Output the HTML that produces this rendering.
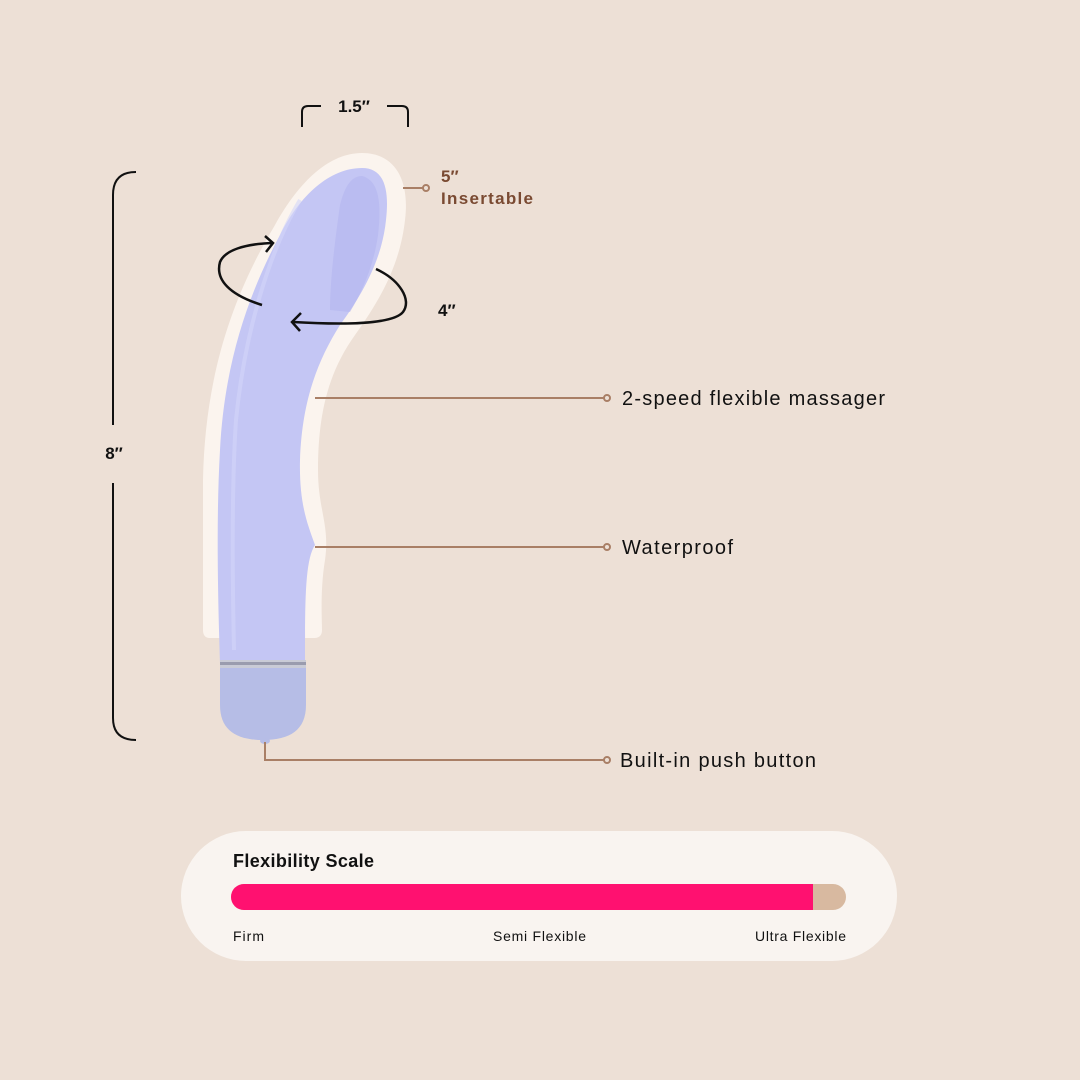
<!DOCTYPE html>
<html><head><meta charset="utf-8"><style>
html,body{margin:0;padding:0;background:#ede0d6;}
svg{display:block;}
text{font-family:"Liberation Sans",sans-serif;}
</style></head><body>
<svg width="1080" height="1080" viewBox="0 0 1080 1080" xmlns="http://www.w3.org/2000/svg">
<rect width="1080" height="1080" fill="#ede0d6"/>
<path d="M362 153 C395 153 410 180 405 220 C400 265 380 300 355 335 C330 370 318 410 318 470 C318 510 330 525 325 560 C320 590 322 620 322 630 Q322 638 314 638 L210 638 Q203 638 203 630 L203 480 C205 380 230 300 275 225 C300 180 330 153 362 153 Z" fill="#fbf4ee"/>
<path d="M362 168 C382 168 390 185 386 220 C382 260 362 295 340 325 C318 360 302 400 300 460 C299 505 308 525 315 545 C305 560 305 600 305 664 L220 664 C218 600 216 520 220 450 C224 370 245 300 280 235 C300 195 330 168 362 168 Z" fill="#c4c6f4"/>
<path d="M362 176 C378 180 382 200 378 235 C374 265 362 292 350 312 L330 310 C330 280 335 240 340 205 C345 185 352 176 362 176 Z" fill="#b4b6ee" opacity="0.6"/>
<path d="M300 200 C270 250 245 330 236 420 C232 480 232 560 234 650" stroke="#d4d5f8" stroke-width="4" fill="none" opacity="0.6"/>
<rect x="220" y="660" width="86" height="8" fill="#c9cbd6"/>
<rect x="220" y="662" width="86" height="3" fill="#9a9cae"/>
<path d="M220 668 L306 668 L306 705 C306 730 290 740 263 740 C236 740 220 730 220 705 Z" fill="#b6bde6"/>
<ellipse cx="265" cy="741" rx="5" ry="3" fill="#b6bde6"/>
<path d="M262 305 C230 295 215 280 220 262 C225 250 245 244 272 243" stroke="#111" stroke-width="2.5" fill="none"/>
<path d="M265 236 L273 243 L266 252" stroke="#111" stroke-width="2.5" fill="none"/>
<path d="M376 269 C400 280 412 300 403 312 C395 322 360 326 293 322" stroke="#111" stroke-width="2.5" fill="none"/>
<path d="M301 313 L292 322 L300 331" stroke="#111" stroke-width="2.5" fill="none"/>
<path d="M136 172 Q113 172 113 195 L113 425 M113 483 L113 718 Q113 740 136 740" stroke="#111" stroke-width="2" fill="none"/>
<text x="114" y="459" font-size="17" font-weight="bold" text-anchor="middle" fill="#111">8″</text>
<path d="M302 127 L302 112 Q302 106 308 106 L321 106 M387 106 L402 106 Q408 106 408 112 L408 127" stroke="#111" stroke-width="2" fill="none"/>
<text x="354" y="112" font-size="17" font-weight="bold" text-anchor="middle" fill="#111">1.5″</text>
<text x="438" y="316" font-size="17" font-weight="bold" fill="#111">4″</text>
<g stroke="#a97f66" stroke-width="2" fill="none">
<path d="M403 188 L423 188"/><circle cx="426" cy="188" r="3" fill="#ede0d6"/>
<path d="M315 398 L604 398"/><circle cx="607" cy="398" r="3" fill="#ede0d6"/>
<path d="M315 547 L604 547"/><circle cx="607" cy="547" r="3" fill="#ede0d6"/>
<path d="M265 742 L265 760 L604 760"/><circle cx="607" cy="760" r="3" fill="#ede0d6"/>
</g>
<text x="441" y="182" font-size="17" font-weight="bold" fill="#7a4a32">5″</text>
<text x="441" y="204" font-size="17" font-weight="bold" fill="#7a4a32" textLength="92">Insertable</text>
<text x="622" y="405" font-size="20" fill="#111" textLength="263">2-speed flexible massager</text>
<text x="622" y="554" font-size="20" fill="#111" textLength="111">Waterproof</text>
<text x="620" y="767" font-size="20" fill="#111" textLength="196">Built-in push button</text>
<rect x="181" y="831" width="716" height="130" rx="65" fill="#f9f4f0"/>
<text x="233" y="867" font-size="18" font-weight="bold" fill="#111" textLength="141">Flexibility Scale</text>
<rect x="231" y="884" width="615" height="26" rx="13" fill="#d8b9a0"/>
<path d="M244 884 L813 884 L813 910 L244 910 A13 13 0 0 1 244 884 Z" fill="#ff1170"/>
<text x="233" y="941" font-size="14" fill="#111" textLength="31">Firm</text>
<text x="493" y="941" font-size="14" fill="#111" textLength="93">Semi Flexible</text>
<text x="755" y="941" font-size="14" fill="#111" textLength="91">Ultra Flexible</text>
</svg>
</body></html>
